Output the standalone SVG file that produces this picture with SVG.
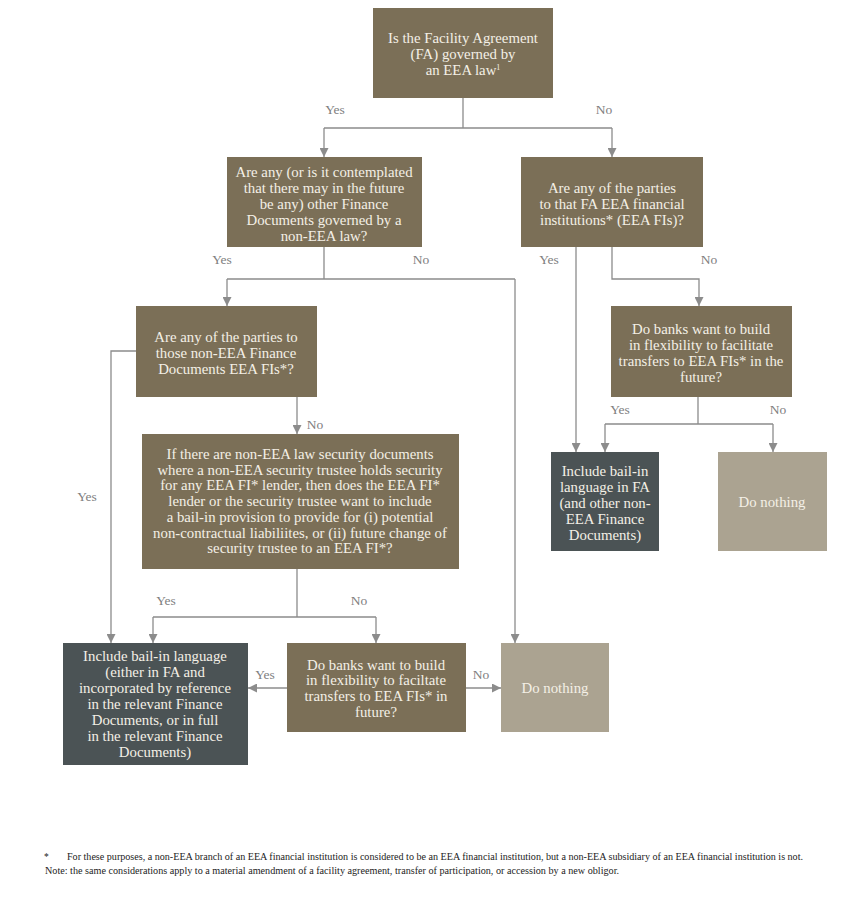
<svg xmlns="http://www.w3.org/2000/svg" width="867" height="897" viewBox="0 0 867 897">
<style>
.q{fill:#7b6f57}
.d{fill:#4b5355}
.n{fill:#aba391}
.t{font-family:"Liberation Serif",serif;font-size:14.8px;fill:#f4f0e6;text-anchor:middle}
.l{font-family:"Liberation Serif",serif;font-size:13.5px;fill:#808080;text-anchor:middle}
.c{fill:none;stroke:#8c8c8c;stroke-width:1.3}
.f{font-family:"Liberation Serif",serif;font-size:9.5px;fill:#222}
</style>
<defs>
<marker id="a" markerUnits="userSpaceOnUse" markerWidth="9" markerHeight="9" refX="9" refY="4.5" orient="auto" viewBox="0 0 9 9">
<path d="M0,0 L9,4.5 L0,9 z" fill="#8c8c8c"/>
</marker>
</defs>
<rect width="867" height="897" fill="#fff"/>
<g id="connectors">
<path class="c" d="M463,98 V128 M324,128 H612"/>
<path class="c" d="M324,128 V157" marker-end="url(#a)"/>
<path class="c" d="M612,128 V157" marker-end="url(#a)"/>
<path class="c" d="M324,247 V279 M227,279 H515"/>
<path class="c" d="M227,279 V306" marker-end="url(#a)"/>
<path class="c" d="M515,279 V643" marker-end="url(#a)"/>
<path class="c" d="M576,247 V452" marker-end="url(#a)"/>
<path class="c" d="M612,247 V279 H699 V306" marker-end="url(#a)"/>
<path class="c" d="M136,351 H111 V643" marker-end="url(#a)"/>
<path class="c" d="M297,397 V434" marker-end="url(#a)"/>
<path class="c" d="M698,397 V424 M605,424 H773"/>
<path class="c" d="M605,424 V452" marker-end="url(#a)"/>
<path class="c" d="M773,424 V452" marker-end="url(#a)"/>
<path class="c" d="M297,569 V617 M153,617 H376"/>
<path class="c" d="M153,617 V643" marker-end="url(#a)"/>
<path class="c" d="M376,617 V643" marker-end="url(#a)"/>
<path class="c" d="M287,688 H248" marker-end="url(#a)"/>
<path class="c" d="M466,688 H501" marker-end="url(#a)"/>
<text class="l" x="335" y="114">Yes</text>
<text class="l" x="604" y="114">No</text>
<text class="l" x="222" y="264">Yes</text>
<text class="l" x="421" y="264">No</text>
<text class="l" x="549" y="264">Yes</text>
<text class="l" x="709" y="264">No</text>
<text class="l" x="315" y="429">No</text>
<text class="l" x="87" y="501">Yes</text>
<text class="l" x="620" y="414">Yes</text>
<text class="l" x="778" y="414">No</text>
<text class="l" x="166" y="605">Yes</text>
<text class="l" x="359" y="605">No</text>
<text class="l" x="265" y="679">Yes</text>
<text class="l" x="481" y="679">No</text>
</g>
<g id="n1">
<rect class="q" x="373" y="8" width="180" height="90"/>
<text class="t" x="463" y="43">Is the Facility Agreement</text>
<text class="t" x="463" y="59">(FA) governed by</text>
<text class="t" x="463" y="75">an EEA law<tspan font-size="8" dy="-5">1</tspan></text>
</g>
<g id="n2">
<rect class="q" x="227" y="157" width="195" height="90"/>
<text class="t" x="324" y="177">Are any (or is it contemplated</text>
<text class="t" x="324" y="193">that there may in the future</text>
<text class="t" x="324" y="209">be any) other Finance</text>
<text class="t" x="324" y="225">Documents governed by a</text>
<text class="t" x="324" y="241">non-EEA law?</text>
</g>
<g id="n3">
<rect class="q" x="521" y="157" width="182" height="90"/>
<text class="t" x="612" y="193">Are any of the parties</text>
<text class="t" x="612" y="209">to that FA EEA financial</text>
<text class="t" x="612" y="225">institutions* (EEA FIs)?</text>
</g>
<g id="n4">
<rect class="q" x="136" y="306" width="181" height="91"/>
<text class="t" x="226" y="342">Are any of the parties to</text>
<text class="t" x="226" y="358">those non-EEA Finance</text>
<text class="t" x="226" y="374">Documents EEA FIs*?</text>
</g>
<g id="n5">
<rect class="q" x="611" y="306" width="181" height="91"/>
<text class="t" x="701" y="334">Do banks want to build</text>
<text class="t" x="701" y="350">in flexibility to facilitate</text>
<text class="t" x="701" y="366">transfers to EEA FIs* in the</text>
<text class="t" x="701" y="382">future?</text>
</g>
<g id="n6">
<rect class="q" x="142" y="434" width="317" height="135"/>
<text class="t" x="300" y="459">If there are non-EEA law security documents</text>
<text class="t" x="300" y="475">where a non-EEA security trustee holds security</text>
<text class="t" x="300" y="490">for any EEA FI* lender, then does the EEA FI*</text>
<text class="t" x="300" y="506">lender or the security trustee want to include</text>
<text class="t" x="300" y="522">a bail-in provision to provide for (i) potential</text>
<text class="t" x="300" y="538">non-contractual liabiliites, or (ii) future change of</text>
<text class="t" x="300" y="553">security trustee to an EEA FI*?</text>
</g>
<g id="n7">
<rect class="d" x="551" y="452" width="108" height="99"/>
<text class="t" x="605" y="476">Include bail-in</text>
<text class="t" x="605" y="492">language in FA</text>
<text class="t" x="605" y="508">(and other non-</text>
<text class="t" x="605" y="524">EEA Finance</text>
<text class="t" x="605" y="540">Documents)</text>
</g>
<g id="n8">
<rect class="n" x="718" y="452" width="109" height="99"/>
<text class="t" x="772" y="507">Do nothing</text>
</g>
<g id="n9">
<rect class="d" x="63" y="643" width="185" height="122"/>
<text class="t" x="155" y="661">Include bail-in language</text>
<text class="t" x="155" y="677">(either in FA and</text>
<text class="t" x="155" y="693">incorporated by reference</text>
<text class="t" x="155" y="709">in the relevant Finance</text>
<text class="t" x="155" y="725">Documents, or in full</text>
<text class="t" x="155" y="741">in the relevant Finance</text>
<text class="t" x="155" y="757">Documents)</text>
</g>
<g id="n10">
<rect class="q" x="287" y="643" width="179" height="89"/>
<text class="t" x="376" y="670">Do banks want to build</text>
<text class="t" x="376" y="685">in flexibility to faciltate</text>
<text class="t" x="376" y="701">transfers to EEA FIs* in</text>
<text class="t" x="376" y="717">future?</text>
</g>
<g id="n11">
<rect class="n" x="501" y="643" width="108" height="89"/>
<text class="t" x="555" y="693">Do nothing</text>
</g>
<g id="footnote">
<text class="f" x="44" y="860">*</text>
<text class="f" x="67" y="860" textLength="736" lengthAdjust="spacingAndGlyphs">For these purposes, a non-EEA branch of an EEA financial institution is considered to be an EEA financial institution, but a non-EEA subsidiary of an EEA financial institution is not.</text>
<text class="f" x="45" y="874" textLength="574" lengthAdjust="spacingAndGlyphs">Note: the same considerations apply to a material amendment of a facility agreement, transfer of participation, or accession by a new obligor.</text>
</g>
</svg>
